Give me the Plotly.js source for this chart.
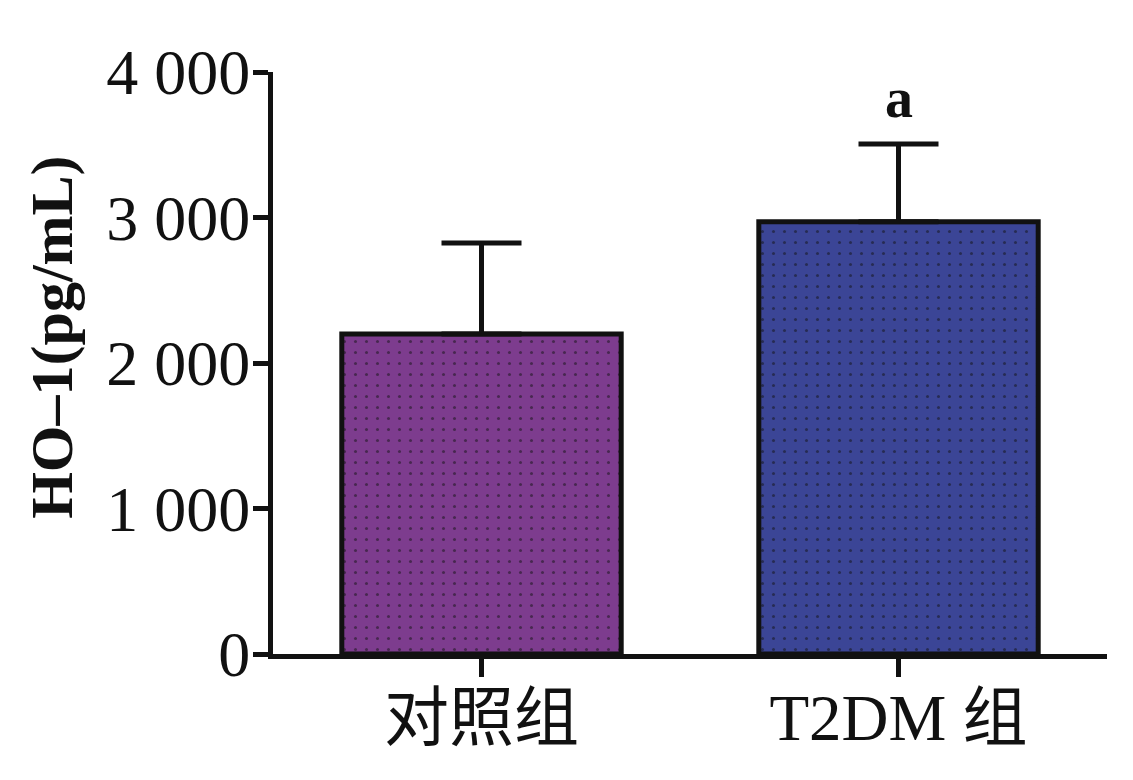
<!DOCTYPE html>
<html>
<head>
<meta charset="utf-8">
<script src="https://cdn.plot.ly/plotly-3.0.1.min.js"></script>
<style>html,body{margin:0;padding:0;background:#fff;}#chart{width:1133px;height:780px;}</style>
</head>
<body>
<div id="chart"></div>
<script>
const categories = ["对照组", "T2DM 组"];
const means = [2200, 2970];
const sds = [625, 535];
const barColors = ["#7D3C8E", "#3B4596"];
const yTickVals = [0, 1000, 2000, 3000, 4000];
const yTickText = ["0", "1 000", "2 000", "3 000", "4 000"];
const sigLabels = ["", "a"];
const yTitle = "HO–1(pg/mL)";

const serif = "Liberation Serif, Times New Roman, serif";

const traces = categories.map((c, i) => ({
  type: "bar",
  x: [c],
  y: [means[i]],
  width: 0.67,
  marker: {
    color: barColors[i],
    line: {color: "#111", width: 5},
    pattern: {shape: ".", fgcolor: "#111", bgcolor: barColors[i], size: 11, solidity: 0.06, fillmode: "overlay"}
  },
  error_y: {
    type: "data",
    symmetric: false,
    array: [sds[i]],
    arrayminus: [0],
    color: "#111",
    thickness: 5,
    width: 40
  },
  hoverinfo: "skip"
}));

const annotations = categories.map((c, i) => ({
  x: c, y: means[i] + sds[i], xref: "x", yref: "y",
  text: sigLabels[i] ? "<b>" + sigLabels[i] + "</b>" : "",
  showarrow: false, yanchor: "bottom", yshift: 13,
  font: {family: serif, size: 56, color: "#111"}
})).filter(a => a.text);

annotations.push({
  xref: "paper", yref: "paper", x: -0.265, y: 0.545,
  xanchor: "center", yanchor: "middle", textangle: -90,
  text: "<b>" + yTitle + "</b>", showarrow: false,
  font: {family: serif, size: 60, color: "#111"}
});

const layout = {
  width: 1133, height: 780,
  margin: {l: 273, r: 26, t: 72, b: 126},
  paper_bgcolor: "#fff", plot_bgcolor: "#fff",
  showlegend: false,
  barmode: "overlay",
  xaxis: {
    type: "category",
    range: [-0.5, 1.5],
    showline: true, linecolor: "#111", linewidth: 5,
    ticks: "outside", ticklen: 18, tickwidth: 5, tickcolor: "#111",
    showgrid: false, zeroline: false,
    tickfont: {family: "Liberation Serif, Noto Sans CJK SC, serif", size: 65, color: "#111"},
    ticklabelstandoff: -15
  },
  yaxis: {
    range: [0, 4000],
    tickvals: yTickVals, ticktext: yTickText,
    showline: true, linecolor: "#111", linewidth: 5,
    ticks: "outside", ticklen: 15, tickwidth: 5, tickcolor: "#111",
    showgrid: false, zeroline: false,
    tickfont: {family: serif, size: 64, color: "#111"},
    ticklabelstandoff: -10
  },
  annotations: annotations
};

Plotly.newPlot("chart", traces, layout, {displayModeBar: false, staticPlot: true});
</script>
</body>
</html>
